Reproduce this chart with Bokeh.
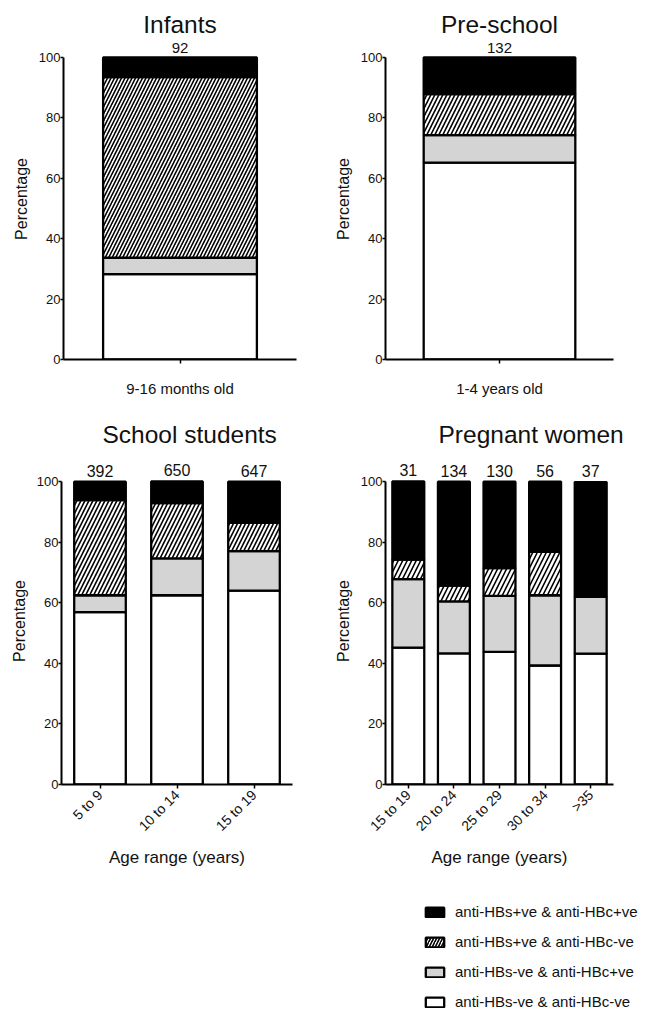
import math
from bokeh.plotting import figure
from bokeh.layouts import column, row
from bokeh.models import (ColumnDataSource, Range1d, FactorRange, Legend, LegendItem,
                          FixedTicker, Spacer)
from bokeh.embed import file_html
from bokeh.resources import INLINE
from bokeh.core.properties import value

FONT = "Liberation Sans"

# ---------------- data (percentages, n above bars) ----------------
stack_keys = ["neg_neg", "neg_pos", "pos_neg", "pos_pos"]
stack_labels = ["anti-HBs-ve & anti-HBc-ve", "anti-HBs-ve & anti-HBc+ve",
                "anti-HBs+ve & anti-HBc-ve", "anti-HBs+ve & anti-HBc+ve"]

infant_groups = ["9-16 months old"]
infant_n = [92]
infant_neg_neg = [28.3]
infant_neg_pos = [5.4]
infant_pos_neg = [59.8]
infant_pos_pos = [6.5]

preschool_groups = ["1-4 years old"]
preschool_n = [132]
preschool_neg_neg = [65.2]
preschool_neg_pos = [9.1]
preschool_pos_neg = [13.6]
preschool_pos_pos = [12.1]

school_groups = ["5 to 9", "10 to 14", "15 to 19"]
school_n = [392, 650, 647]
school_neg_neg = [56.9, 62.5, 64.0]
school_neg_pos = [5.6, 12.2, 13.1]
school_pos_neg = [31.4, 18.2, 9.3]
school_pos_pos = [6.1, 7.2, 13.6]

women_groups = ["15 to 19", "20 to 24", "25 to 29", "30 to 34", ">35"]
women_n = [31, 134, 130, 56, 37]
women_neg_neg = [45.2, 43.3, 43.8, 39.3, 43.2]
women_neg_pos = [22.6, 17.2, 18.5, 23.2, 18.9]
women_pos_neg = [6.5, 5.2, 9.2, 14.3, 0.0]
women_pos_pos = [25.8, 34.3, 28.5, 23.2, 37.8]

yticks = [0, 20, 40, 60, 80, 100]

FILLS = ["white", "#d4d4d4", "white", "black"]
HATCHES = [" ", " ", "/", " "]


def panel(title, groups, n, nn, npos, pneg, pp, width, height, mb, y_end,
          bar_width, hatch_scale, title_align, title_offset, title_standoff,
          n_size, rotate=False, xlabel=None):
    total = [a + b + c + d for a, b, c, d in zip(nn, npos, pneg, pp)]
    src = ColumnDataSource(dict(group=groups, neg_neg=nn, neg_pos=npos,
                                pos_neg=pneg, pos_pos=pp, total=total,
                                n=[str(v) for v in n]))
    p = figure(x_range=FactorRange(*groups), y_range=Range1d(0, y_end),
               width=width, height=height, output_backend="svg",
               toolbar_location=None, title=title,
               min_border_left=mb[0], min_border_right=mb[1],
               min_border_top=mb[2], min_border_bottom=mb[3])
    p.outline_line_color = None
    p.grid.visible = False
    p.title.align = title_align
    p.title.text_font = FONT
    p.title.text_font_size = "24.5px"
    p.title.text_font_style = "normal"
    p.title.text_color = "#111111"
    p.title.offset = title_offset
    p.title.standoff = title_standoff

    p.vbar_stack(stack_keys, x="group", width=bar_width, source=src,
                 fill_color=FILLS, hatch_pattern=HATCHES,
                 hatch_color="black", hatch_weight=1.6, hatch_scale=hatch_scale,
                 line_color="black", line_width=2.3)

    p.text(x="group", y="total", text="n", source=src,
           text_align="center", text_baseline="bottom", y_offset=-5,
           text_font=value(FONT), text_font_size=n_size, text_color="#111111")

    ya = p.yaxis[0]
    ya.ticker = FixedTicker(ticks=yticks)
    ya.bounds = (0, 100)
    ya.axis_line_width = 2
    ya.major_tick_line_width = 1.5
    ya.major_tick_out = 3
    ya.major_tick_in = 0
    ya.minor_tick_line_color = None
    ya.major_label_standoff = 0
    ya.major_label_text_font = FONT
    ya.major_label_text_font_size = "13px"
    ya.major_label_text_color = "#111111"
    ya.axis_label = "Percentage"
    ya.axis_label_text_font = FONT
    ya.axis_label_text_font_size = "16px"
    ya.axis_label_text_font_style = "normal"
    ya.axis_label_text_color = "#111111"
    ya.axis_label_standoff = 6

    xa = p.xaxis[0]
    xa.axis_line_width = 2
    xa.major_tick_line_width = 1.5
    xa.major_tick_out = 4
    xa.major_tick_in = 0
    xa.major_label_text_font = FONT
    xa.major_label_text_color = "#111111"
    if rotate:
        xa.major_label_orientation = math.pi / 4
        xa.major_label_text_font_size = "14px"
        xa.major_label_standoff = 4
    else:
        xa.major_label_text_font_size = "15px"
        xa.major_label_standoff = 16
    if xlabel:
        xa.axis_label = xlabel
        xa.axis_label_text_font = FONT
        xa.axis_label_text_font_size = "17px"
        xa.axis_label_text_font_style = "normal"
        xa.axis_label_text_color = "#111111"
        xa.axis_label_standoff = 5
    return p


p1 = panel("Infants", infant_groups, infant_n, infant_neg_neg, infant_neg_pos,
           infant_pos_neg, infant_pos_pos, 331, 400, (63, 35, 38, 41), 106.3,
           0.66, 7, "center", 0, 1, "15px")
p2 = panel("Pre-school", preschool_groups, preschool_n, preschool_neg_neg,
           preschool_neg_pos, preschool_pos_neg, preschool_pos_pos,
           331, 400, (50, 49, 38, 41), 106.3, 0.665, 8, "center", 0, 1, "15px")
p3 = panel("School students", school_groups, school_n, school_neg_neg,
           school_neg_pos, school_pos_neg, school_pos_pos,
           331, 480, (61, 39, 57, 96), 108, 0.67, 8, "left", 41, 20, "16px",
           rotate=True, xlabel="Age range (years)")
p4 = panel("Pregnant women", women_groups, women_n, women_neg_neg,
           women_neg_pos, women_pos_neg, women_pos_pos,
           331, 480, (50, 49, 57, 96), 108, 0.7, 9, "left", 53, 20, "16px",
           rotate=True, xlabel="Age range (years)")

# ---------------- legend panel ----------------
pl = figure(width=239, height=132, output_backend="svg", toolbar_location=None,
            x_range=Range1d(0, 1), y_range=Range1d(0, 1),
            x_axis_type=None, y_axis_type=None,
            min_border=0, min_border_top=23)
pl.outline_line_color = None
pl.grid.visible = False
items = []
for key, lab, fc, hp in zip(stack_keys, stack_labels, FILLS, HATCHES):
    r = pl.vbar(x=[5], top=[-5], bottom=[-6], width=0.5, fill_color=fc,
                hatch_pattern=hp, hatch_color="black", hatch_weight=1.6,
                hatch_scale=6, line_color="black", line_width=2.3)
    items.append(LegendItem(label=lab, renderers=[r]))
items = items[::-1]
leg = Legend(items=items, location="top_left", margin=0, padding=0,
             glyph_width=23, glyph_height=12, label_height=12,
             label_standoff=9, spacing=13,
             label_text_font=FONT, label_text_font_size="15px",
             label_text_color="#111111",
             border_line_color=None, background_fill_alpha=0)
pl.add_layout(leg, "center")

layout = column(row(p1, p2), row(p3, p4),
                row(Spacer(width=423, height=132), pl))

open("out.html", "w").write(file_html(layout, INLINE))
